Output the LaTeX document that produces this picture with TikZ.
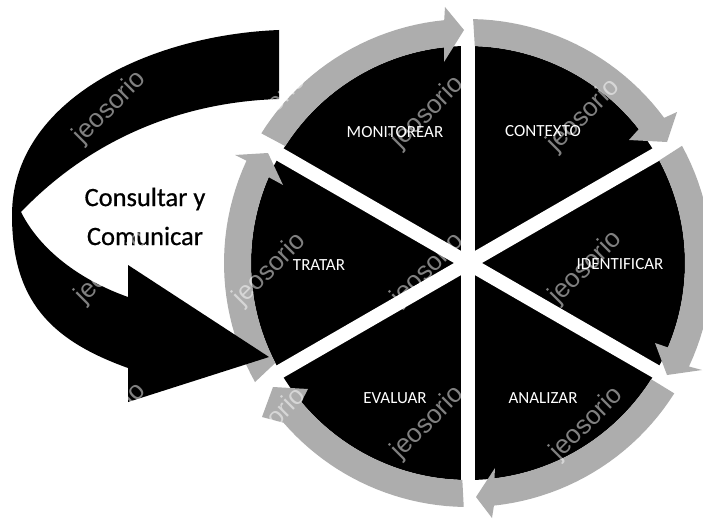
\documentclass[tikz,border=0pt]{standalone}
\usepackage{fontspec}
\setmainfont{Carlito}
\newfontfamily\wmfont{Liberation Sans}
\newfontfamily\heavyfont[FakeBold=0.6]{Carlito}
\newcommand{\RingArrow}[8]{%
  % start angle, outer end angle, inner end angle, flare outer, tip, flare inner
  \fill[ringgray] plot[domain=#1:#2,samples=24] ({468+244*cos(\x)},{263+244*sin(\x)})
    -- #4 -- #5 -- #6
    -- plot[domain=#3:#7,samples=24] ({468+217*cos(\x)},{263+217*sin(\x)}) -- cycle;%
}
\tikzset{
  ringgray/.style={fill=black!32},
  band/.style={draw=white,line width=14pt},
  seglabel/.style={text=white,font=\fontsize{17}{19}\selectfont,inner sep=0pt},
  mainlabel/.style={text=black,font=\heavyfont\fontsize{26.5}{30}\selectfont,inner sep=0pt},
  wm/.style={text=white,text opacity=0.5,rotate=45,inner sep=0pt,font=\wmfont\fontsize{26}{26}\selectfont}
}
\begin{document}
\begin{tikzpicture}[x=1pt,y=-1pt]
\useasboundingbox (0,0) rectangle (703,519);
\fill[white] (0,0) rectangle (703,519);
% black disc and white bands
\fill[black] (468,263) circle[radius=217];
\coordinate (c) at (468,263);
\draw[band] (468,5) -- (468,519);
\draw[band] (c) -- ++(-30:250);
\draw[band] (c) -- ++(30:250);
\draw[band] (c) -- ++(150:250);
\draw[band] (c) -- ++(210:250);
% ring arrows
\RingArrow{-88.8}{-36.5}{-38.1}{(677,112)}{(667,142)}{(629,140)}{-88.2}{}
\RingArrow{-28.7}{25.1}{22.9}{(702,370)}{(667,375)}{(655,343)}{-28.2}{}
\RingArrow{32.3}{83.9}{83}{(492,518)}{(476,497)}{(495,468)}{32.4}{}
\RingArrow{91}{139.1}{140.2}{(262,417)}{(273,387)}{(308,389)}{91.5}{}
\RingArrow{150.8}{204.8}{203.3}{(235,155)}{(268,153)}{(283,185)}{152.6}{}
\RingArrow{212.1}{264.4}{263.7}{(445,7)}{(464,30)}{(444,62)}{212.6}{}
% large black arrow
\fill[black]
  (279,30) .. controls (150,35) and (12,100) .. (12,215)
  .. controls (12,300) and (50,340) .. (128,368)
  -- (128,402) -- (269,357) -- (128,265) -- (128,297)
  .. controls (80,280) and (40,250) .. (21,212)
  .. controls (90,140) and (180,102) .. (279,99)
  -- cycle;
% labels
\node[seglabel] (monitorear) at (395,132) {MONITOREAR};
\node[seglabel] (contexto) at (543,131) {CONTEXTO};
\node[seglabel] (identificar) at (620,264) {IDENTIFICAR};
\node[seglabel] (analizar) at (543,398) {ANALIZAR};
\node[seglabel] (evaluar) at (395,398) {EVALUAR};
\node[seglabel] (tratar) at (319,265) {TRATAR};
\node[mainlabel] (consultar) at (145,199) {Consultar y};
\node[mainlabel] (comunicar) at (145,236) {Comunicar};
% watermark
\foreach \wx/\wy/\wn in {110/108/a,270/110/b,428/113/c,584/116/d,112/268/e,270/270/f,428/270/g,586/268/h,110/420/i,270/425/j,428/423/k,587/424/l}{
  \node[wm] (wm\wn) at (\wx,\wy) {jeosorio};
}
\end{tikzpicture}
\end{document}
